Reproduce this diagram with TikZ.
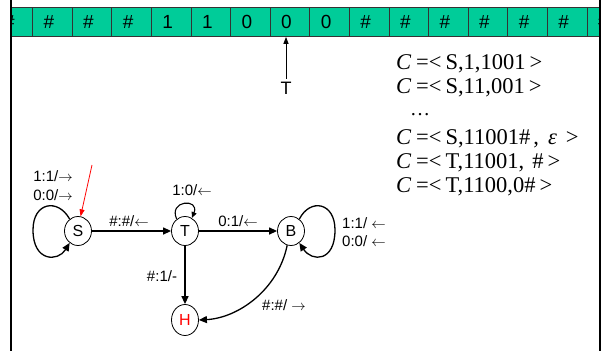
\documentclass[tikz,border=0pt]{standalone}
\usepackage{fontspec}
\setmainfont{Liberation Sans}
\newfontfamily\tms{Liberation Serif}
\usetikzlibrary{arrows.meta,shapes.geometric}
\definecolor{tapegreen}{HTML}{00CC99}
\newcommand{\cfg}[1]{{\itshape C}\hspace{5pt}=<\hspace{4pt}#1\hspace{4pt}>}
\begin{document}
\begin{tikzpicture}[x=1pt,y=-1pt,
  cell/.style={draw=black!80,line width=0.7pt,fill=tapegreen,minimum width=39.6pt,minimum height=29pt,inner sep=0pt,font=\fontsize{19}{19}\selectfont},
  st/.style={draw,line width=0.8pt,ellipse,minimum width=27pt,minimum height=29pt,inner sep=0pt,font=\fontsize{16}{16}\selectfont},
  tr/.style={line width=1.3pt,-{Triangle[length=8pt,width=7pt]}},
  lab/.style={font=\fontsize{15}{15}\selectfont,inner sep=0pt},
  cf/.style={font=\tms\fontsize{22.5}{22.5}\selectfont,anchor=west,inner sep=0pt}]
\useasboundingbox (0,0) rectangle (605,351);
% tape
\begin{scope}
\clip (11,0) rectangle (600,351);
\foreach \s [count=\i from 0] in {\#,\#,\#,\#,1,1,0,0,0,\#,\#,\#,\#,\#,\#,\#}{
  \node[cell] (c\i) at (12.8+39.6*\i,22) {\hspace*{-7pt}\s};
}
\end{scope}
% frame
\draw[line width=2pt] (11,0) -- (11,351);
\draw[line width=2pt] (599.5,0) -- (599.5,351);
% head
\node[font=\fontsize{18}{18}\selectfont,inner sep=0pt] (head) at (286,88) {T};
\draw[line width=1pt,-{Triangle[length=7pt,width=5pt]}] (head.north) ++(0,-3) coordinate (hb) (hb) -- (hb |- c7.south);
% configurations
\node[cf] (k1) at (396,63.5) {\cfg{S,1,1001}};
\node[cf] (k2) at (396,88) {\cfg{S,11,001}};
\node[cf,font=\tms\fontsize{20}{20}\selectfont] (k0) at (410,115) {…};
\node[cf] (k3) at (396,139) {\cfg{S,11001\#\hspace{3pt},\hspace{9pt}{\itshape ε}\hspace{5pt}}};
\node[cf] (k4) at (396,163) {\cfg{T,11001,\hspace{8pt}\#}};
\node[cf] (k5) at (396,187) {\cfg{T,1100,0\#}};
% states
\node[st] (S) at (78,231) {S};
\node[st] (T) at (185,231) {T};
\node[st] (B) at (291,231) {B};
\node[st,minimum height=31pt,text=red] (H) at (185,320) {H};
% start arrow
\coordinate (st0) at (92,165);
\draw[red,line width=0.8pt,-{Triangle[length=7pt,width=5pt]}] (st0) -- (S.80);
% transitions
\draw[tr] (S) -- (T);
\draw[tr] (T) -- (B);
\draw[tr] (T) -- (H);
\draw[tr] (B.255) .. controls (278,290) and (238,318) .. (H.east);
\draw[tr] (S.125) .. controls (58,198) and (33,202) .. (33,230) .. controls (33,262) and (58,262) .. (S.235);
\draw[tr] (B.55) .. controls (310,198) and (335,202) .. (335,230) .. controls (335,262) and (312,262) .. (B.-55);
\draw[line width=1.1pt,-{Triangle[length=6pt,width=5pt]}] (T.125) .. controls (168,200) and (200,198) .. (T.62);
% labels
\node[lab] (l1) at (53,176) {1:1/$\rightarrow$};
\node[lab] (l2) at (53,195) {0:0/$\rightarrow$};
\node[lab] (l3) at (129,221) {\#:\#/$\leftarrow$};
\node[lab] (l4) at (192,190) {1:0/$\leftarrow$};
\node[lab] (l5) at (238,221) {0:1/$\leftarrow$};
\node[lab] (l6) at (162,276) {\#:1/-};
\node[lab] (l7) at (284,305) {\#:\#/ $\rightarrow$};
\node[lab] (l8) at (364,223) {1:1/ $\leftarrow$};
\node[lab] (l9) at (364,241) {0:0/ $\leftarrow$};
\end{tikzpicture}
\end{document}
